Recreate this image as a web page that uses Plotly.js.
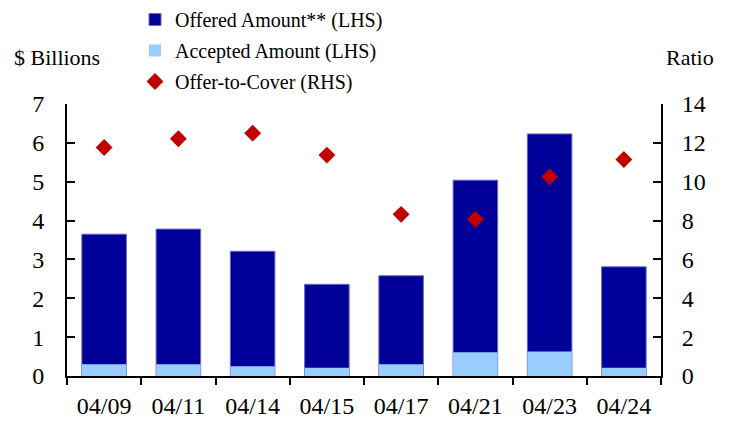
<!DOCTYPE html>
<html>
<head>
<meta charset="utf-8">
<script src="https://cdn.plot.ly/plotly-3.0.1.min.js"></script>
<style>html,body{margin:0;padding:0;background:#fff;}#chart{width:734px;height:423px;}</style>
</head>
<body>
<div id="chart"></div>
<script>
const dates = ["04/09", "04/11", "04/14", "04/15", "04/17", "04/21", "04/23", "04/24"];
const offered = [3.65, 3.78, 3.21, 2.36, 2.58, 5.04, 6.23, 2.81];
const accepted = [0.30, 0.30, 0.25, 0.21, 0.30, 0.61, 0.63, 0.21];
const offerToCover = [11.76, 12.21, 12.5, 11.37, 8.32, 8.07, 10.25, 11.14];

const font = "Liberation Serif, Times New Roman, serif";

const traces = [
  {
    type: "bar", name: "Offered Amount** (LHS)", x: dates, y: offered,
    marker: {color: "#000099", line: {color: "#6a6ac8", width: 1}},
    width: 0.6, legendgroup: "a"
  },
  {
    type: "bar", name: "Accepted Amount (LHS)", x: dates, y: accepted,
    marker: {color: "#99ccff", line: {width: 0}},
    width: 0.6, legendgroup: "b"
  },
  {
    type: "scatter", mode: "markers", name: "Offer-to-Cover (RHS)", x: dates, y: offerToCover,
    yaxis: "y2", marker: {symbol: "diamond", color: "#c00000", size: 13},
    legendgroup: "c"
  }
];

const layout = {
  width: 734, height: 423,
  margin: {l: 67, r: 73, t: 104, b: 47, autoexpand: false},
  paper_bgcolor: "#fff", plot_bgcolor: "#fff",
  font: {family: font, size: 24, color: "#000"},
  barmode: "overlay",
  showlegend: true,
  legend: {
    xref: "container", yref: "container",
    x: 135 / 734, xanchor: "left", y: 1, yanchor: "top",
    font: {family: font, size: 20, color: "#000"},
    tracegroupgap: 2, traceorder: "grouped",
    bgcolor: "rgba(0,0,0,0)"
  },
  xaxis: {
    type: "category", range: [-0.5, 7.5], automargin: false, tickangle: 0,
    showline: true, linecolor: "#000", linewidth: 2,
    ticks: "outside", tickson: "boundaries", ticklen: 7, tickwidth: 2, tickcolor: "#000",
    showgrid: false, zeroline: false, ticklabelstandoff: 7,
    tickfont: {family: font, size: 24}
  },
  yaxis: {
    range: [0, 7], dtick: 1, showline: true, linecolor: "#000", linewidth: 2, automargin: false,
    ticks: "inside", ticklen: 8, tickwidth: 2, tickcolor: "#000",
    showgrid: false, zeroline: false, ticklabelstandoff: 16,
    tickfont: {family: font, size: 24}
  },
  yaxis2: {
    range: [0, 14], dtick: 2, overlaying: "y", side: "right", automargin: false,
    showline: true, linecolor: "#000", linewidth: 2,
    ticks: "inside", ticklen: 8, tickwidth: 2, tickcolor: "#000",
    showgrid: false, zeroline: false, ticklabelstandoff: 14,
    tickfont: {family: font, size: 24}
  },
  annotations: [
    {text: "$ Billions", xref: "paper", yref: "paper", x: -0.092, y: 1.17, xanchor: "left", yanchor: "middle", showarrow: false, font: {family: font, size: 22}},
    {text: "Ratio", xref: "paper", yref: "paper", x: 1.005, y: 1.17, xanchor: "left", yanchor: "middle", showarrow: false, font: {family: font, size: 22}}
  ]
};

Plotly.newPlot("chart", traces, layout, {displayModeBar: false, staticPlot: true});
</script>
</body>
</html>
